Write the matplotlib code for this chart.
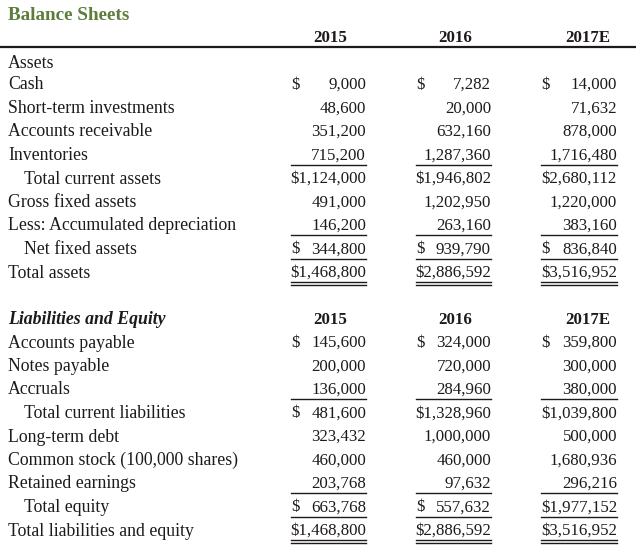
import matplotlib.pyplot as plt
from matplotlib.lines import Line2D

W, H = 636, 556

years = ['2015', '2016', '2017E']

asset_labels = ['Cash', 'Short-term investments', 'Accounts receivable', 'Inventories',
                'Total current assets', 'Gross fixed assets',
                'Less: Accumulated depreciation', 'Net fixed assets', 'Total assets']
asset_2015 = [9000, 48600, 351200, 715200, 1124000, 491000, 146200, 344800, 1468800]
asset_2016 = [7282, 20000, 632160, 1287360, 1946802, 1202950, 263160, 939790, 2886592]
asset_2017 = [14000, 71632, 878000, 1716480, 2680112, 1220000, 383160, 836840, 3516952]
asset_indent = [0, 0, 0, 0, 1, 0, 0, 1, 0]
asset_dollar = [1, 0, 0, 0, 1, 0, 0, 1, 1]
asset_rule = ['', '', '', 'single', '', '', 'single', 'single', 'double']

liab_labels = ['Accounts payable', 'Notes payable', 'Accruals', 'Total current liabilities',
               'Long-term debt', 'Common stock (100,000 shares)', 'Retained earnings',
               'Total equity', 'Total liabilities and equity']
liab_2015 = [145600, 200000, 136000, 481600, 323432, 460000, 203768, 663768, 1468800]
liab_2016 = [324000, 720000, 284960, 1328960, 1000000, 460000, 97632, 557632, 2886592]
liab_2017 = [359800, 300000, 380000, 1039800, 500000, 1680936, 296216, 1977152, 3516952]
liab_indent = [0, 0, 0, 1, 0, 0, 0, 1, 0]
liab_dollar = [1, 0, 0, 1, 0, 0, 0, 1, 1]
liab_rule = ['', '', 'single', '', '', '', 'single', 'single', 'double']

plt.rcParams['font.family'] = 'Liberation Serif'
ink = '#1e1a1b'
fs_lab = 12.8
fs_num = 12.2

fig = plt.figure(figsize=(W / 100, H / 100), dpi=100)
fig.patch.set_facecolor('white')


def txt(x, y, s, **kw):
    kw.setdefault('fontsize', fs_num)
    kw.setdefault('color', ink)
    fig.text(x / W, 1 - y / H, s, va='center', **kw)


def hline(x0, x1, y, lw=1.0):
    fig.add_artist(Line2D([x0 / W, x1 / W], [1 - y / H, 1 - y / H],
                          color=ink, lw=lw, transform=fig.transFigure))


col_left = [291, 416, 541]
col_right = [366, 491, 617]
col_mid = [330, 455, 588]

txt(8, 16, 'Balance Sheets', color='#5b7f3b', fontweight='bold', fontsize=13.8)
for i, y in enumerate(years):
    txt(col_mid[i], 38, y, ha='center', fontweight='bold')
hline(0, W, 47, lw=1.6)
txt(8, 63, 'Assets', fontsize=fs_lab)


def block(labels, cols, indent, dollar, rule, y0):
    step = 23.5
    for r, lab in enumerate(labels):
        y = y0 + r * step
        txt(8 + 16 * indent[r], y, lab, fontsize=fs_lab)
        for c in range(3):
            v = cols[c][r]
            if dollar[r] and v >= 1000000:
                txt(col_right[c], y, f'${v:,}', ha='right')
            else:
                txt(col_right[c], y, f'{v:,}', ha='right')
                if dollar[r]:
                    txt(col_left[c], y, '$', ha='left')
            if rule[r]:
                hline(col_left[c], col_right[c], y + 9, lw=1.0)
            if rule[r] == 'double':
                hline(col_left[c], col_right[c], y + 12, lw=1.0)


block(asset_labels, [asset_2015, asset_2016, asset_2017],
      asset_indent, asset_dollar, asset_rule, 85)

txt(8, 320, 'Liabilities and Equity', fontweight='bold', fontstyle='italic', fontsize=fs_lab)
for i, y in enumerate(years):
    txt(col_mid[i], 320, y, ha='center', fontweight='bold')

block(liab_labels, [liab_2015, liab_2016, liab_2017],
      liab_indent, liab_dollar, liab_rule, 343)

fig.savefig('out.png', dpi=100, facecolor='white')
